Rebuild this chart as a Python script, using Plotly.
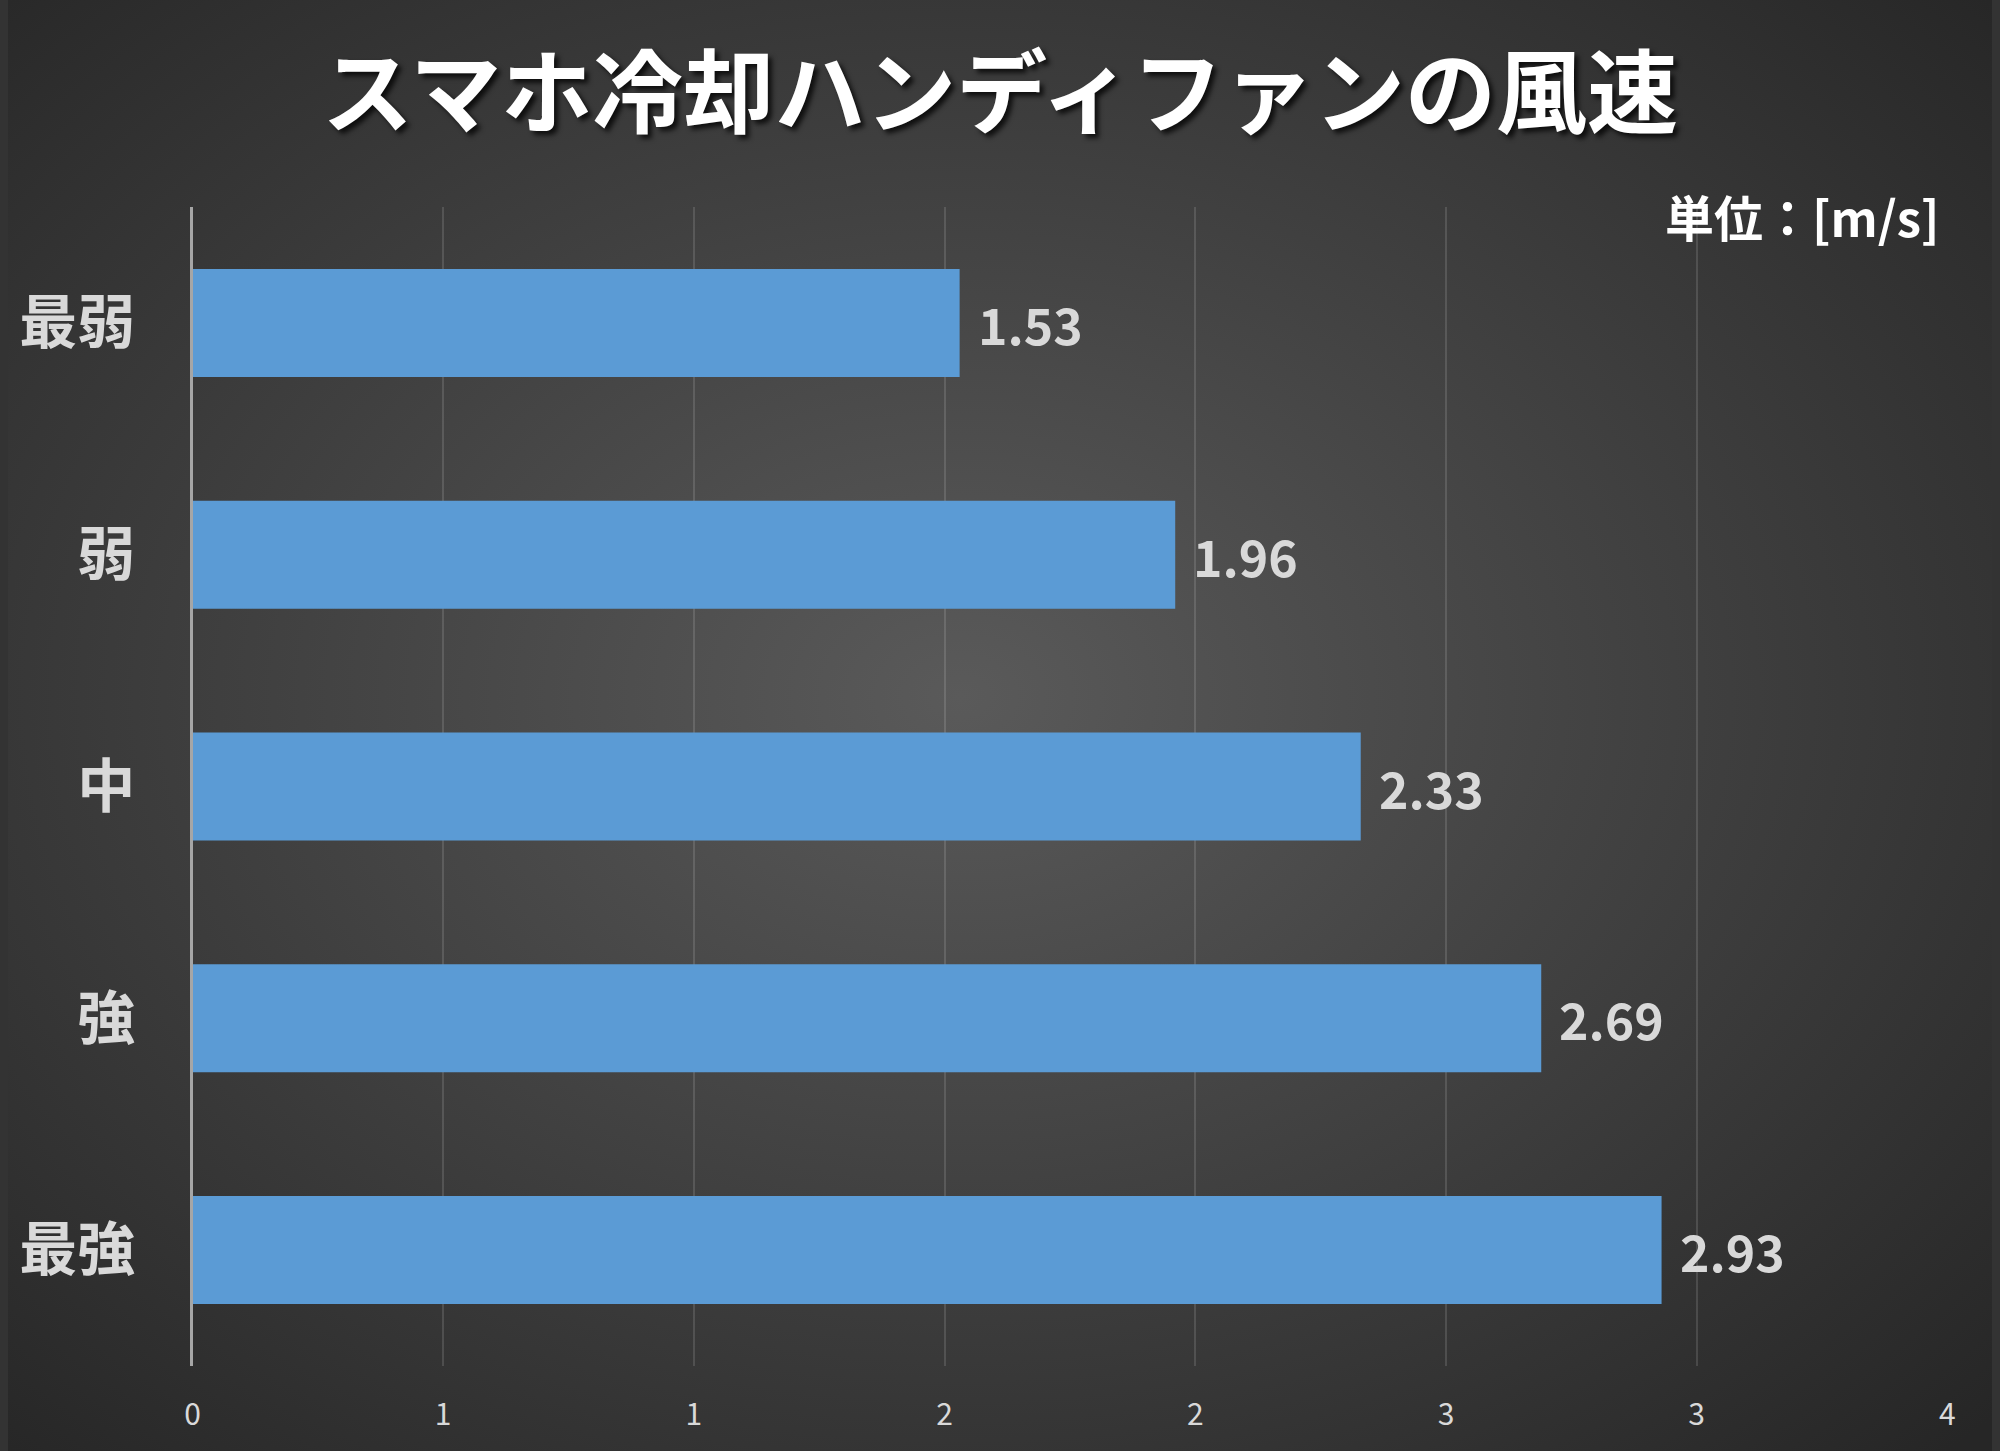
import base64
import plotly.graph_objects as go

# wind speed of the phone cooling fan per setting [m/s]
levels = ["最弱", "弱", "中", "強", "最強"]
speeds = [1.53, 1.96, 2.33, 2.69, 2.93]

tick_vals = [0, 0.5, 1.0, 1.5, 2.0, 2.5, 3.0, 3.5]
tick_labels = ["0", "1", "1", "2", "2", "3", "3", "4"]

title_text = "スマホ冷却ハンディファンの風速"
unit_text = "単位：[m/s]"

W, H = 2000, 1451
JP = "Noto Sans CJK JP"

# radial background like the original chart area
svg = f'''<svg xmlns="http://www.w3.org/2000/svg" width="{W}" height="{H}">
<defs><radialGradient id="g" cx="48%" cy="48%" r="72%">
<stop offset="0" stop-color="#5a5a5a"/>
<stop offset="1" stop-color="#262626"/>
</radialGradient></defs>
<rect width="{W}" height="{H}" fill="url(#g)"/></svg>'''
bg_src = "data:image/svg+xml;base64," + base64.b64encode(svg.encode()).decode()

fig = go.Figure()
fig.add_trace(go.Bar(
    x=speeds, y=levels, orientation="h",
    marker=dict(color="#5b9bd5", line=dict(width=0)),
    hoverinfo="skip",
))

for lv, sp in zip(levels, speeds):
    fig.add_annotation(
        x=sp, y=lv, xref="x", yref="y",
        text=f"{sp:.2f}", showarrow=False,
        xanchor="left", yanchor="middle", xshift=16,
        font=dict(family=JP, size=50, color="#d9d9d9", weight="bold"),
    )

fig.add_annotation(
    x=1950 / W, y=1 - 216 / H, xref="paper", yref="paper",
    text=unit_text, showarrow=False, xanchor="right", yanchor="middle",
    font=dict(family=JP, size=49, color="#ffffff", weight="bold"),
)

fig.update_layout(
    width=W, height=H,
    margin=dict(l=0, r=0, t=0, b=0),
    paper_bgcolor="#333333",
    plot_bgcolor="rgba(0,0,0,0)",
    bargap=0.534,
    showlegend=False,
    title=dict(
        text=title_text, x=0.5, xanchor="center",
        y=1 - 94 / H, yanchor="middle",
        font=dict(family=JP, size=91, color="#ffffff", weight="bold",
                  shadow="4px 4px 5px rgba(0,0,0,0.75)"),
    ),
    images=[dict(source=bg_src, xref="paper", yref="paper", x=0, y=1,
                 sizex=1, sizey=1, xanchor="left", yanchor="top",
                 sizing="stretch", layer="below")],
)

fig.update_xaxes(
    domain=[186 / W, 1955 / W],
    range=[0, 3.5],
    tickvals=tick_vals, ticktext=tick_labels,
    showgrid=True, gridcolor="rgba(255,255,255,0.13)", gridwidth=1.5,
    zeroline=False, showline=False,
    ticks="outside", ticklen=22, tickcolor="rgba(0,0,0,0)",
    tickfont=dict(family=JP, size=30, color="#d9d9d9"),
)
fig.update_yaxes(
    domain=[(H - 1366) / H, (H - 207) / H],
    categoryorder="array", categoryarray=levels, autorange="reversed",
    showgrid=False, zeroline=False,
    showline=True, linecolor="#a6a6a6", linewidth=2.5,
    ticks="outside", ticklen=43, tickcolor="rgba(0,0,0,0)",
    tickfont=dict(family=JP, size=58, color="#d9d9d9", weight="bold"),
)

# pin the graph div to the page corner (no default body margin)
page_js = (
    "document.documentElement.style.cssText='margin:0;padding:0;overflow:hidden;background:#2a2a2a';"
    "document.body.style.cssText='margin:0;padding:0;overflow:hidden;background:#2a2a2a';"
    "var gd=document.getElementById('{plot_id}');"
    "gd.style.position='absolute';gd.style.left='0px';gd.style.top='0px';"
)
fig.write_html("out.html", config={"displayModeBar": False}, post_script=page_js)
